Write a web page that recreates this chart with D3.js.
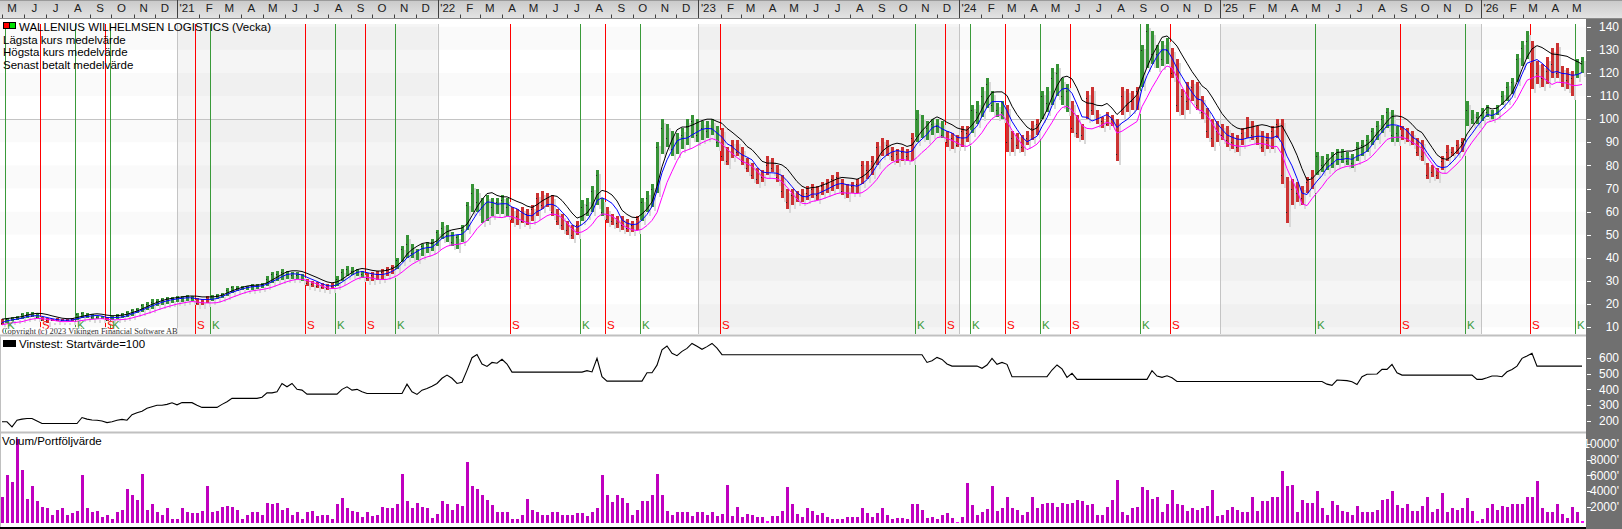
<!DOCTYPE html>
<html lang="sv">
<head>
<meta charset="utf-8">
<title>Wallenius Wilhelmsen Logistics (Vecka)</title>
<script src="https://cdn.jsdelivr.net/npm/d3@7"></script>
<style>
  html, body { margin: 0; padding: 0; background: #fff; overflow: hidden; }
  svg { display: block; font-family: "Liberation Sans", Arial, sans-serif; }
</style>
</head>
<body>
<script>
// weekly bars, week 0 = 2020-05-01
var lows = [
  11,12,12.5,13,13.5,14,14.5,14,12.5,12,
  12.5,12.5,12.5,12.5,12.5,13,14,14,13.5,13.5,
  13.5,12.5,13,13.5,14,14.5,15,16,16.5,17.5,
  18,19,19.5,20,20.5,21,21,21.5,21.5,19.5,
  19.5,20.5,21.5,22,22.5,23.5,25,25.5,26,26,
  26,26.5,27,28,29,30,30.5,31,31,31,
  30,28,27.5,27,26.5,26,26.5,28,30,32,
  32.5,32,31.5,30,30,30.5,31,32,33,35,
  38,40,40,39,41,42,43,45,48,47,
  45,44,47,52,60,60,55,56,58,59,
  59,58,55,54,55,54,56,58,61,62,
  58,54,52,50,48,50,56,58,60,63,
  58,55,54,53,52,51,51,52,56,60,
  62,68,85,88,84,85,87,89,92,90,
  91,92,93,88,82,80,83,84,80,77,
  74,72,73,76,77,73,66,61,63,64,
  64,65,66,65,67,68,69,70,67,66,
  68,68,72,74,76,80,84,84,82,81,
  82,82,82,90,92,91,93,94,92,88,
  87,88,88,90,94,98,101,105,103,101,
  100,86,86,87,86,89,91,93,100,103,
  106,110,106,103,94,92,91,100,102,98,
  96,97,97,82,102,103,104,104,114,122,
  124,122,123,124,118,103,102,104,108,104,
  100,92,88,90,91,88,87,86,89,92,
  91,89,86,87,87,92,72,55,63,64,
  63,68,70,76,77,78,79,80,81,80,
  79,82,84,86,89,91,94,96,90,90,
  91,90,89,84,82,74,75,74,78,82,
  84,85,86,97,98,98,99,101,100,102,
  106,108,111,116,123,126,113,115,114,115,
  118,118,114,113,110,118,120
];
var highs = [
  13.5,14,14.5,15,16,16.5,16.5,16,14.5,14,
  13.5,14,13.5,13.5,14,16,16.5,16,15.5,15,
  15,14.5,15,15.5,16,17,18,18.5,20,21,
  22,22,22.5,23,23,23.5,23.5,24,23.5,22.5,
  22,23.5,24,24.5,25,27,28,28,28,28,
  28.5,28.5,29,32,34,34.5,35,34.5,34,34,
  33,31,30,29.5,29,28.5,29,32,35,36.5,
  36,35,34.5,33.5,34,34.5,35,36,37,40,
  45,50,46,44,46,47,48,52,55.5,54,
  51,50,54,64,72,70,66,67,66,66,
  67,66,62,61,62,61,63,68,69,68,
  67,61,59,56,54,56,65,66,71,78,
  66,62,59,58,58,57,56,58,66,69,
  72,90,100,98,95,94,96,100,102,100,
  99,99,100,97,96,88,91,91,88,83,
  81,79,78,84,83,80,76,70,70,69,
  70,71,72,71,73,74,76,77,74,72,
  73,74,82,82,84,90,92,91,88,87,
  88,87,94,104,102,99,100,100,99,95,
  94,93,97,97,106,108,114,118,112,107,
  108,106,95,94,93,95,99,100,112,114,
  122,124,118,115,108,102,98,112,114,104,
  101,103,102,100,114,113,112,114,132,141,
  138,132,134,135,131,126,113,116,117,116,
  110,105,100,99,98,97,94,93,96,101,
  99,97,95,94,97,100,100,75,74,73,
  71,75,78,86,84,85,86,87,87,86,
  85,90,91,93,96,99,102,105,104,97,
  97,96,95,92,91,81,80,79,84,89,
  88,91,92,108,104,103,105,106,104,106,
  112,116,118,128,134,138,134,125,124,127,
  131,133,123,122,121,126,127
];
var closes = [
  12,13.5,14,14.5,15.5,15.5,15,14.5,13,13,
  13,13,13,13,13.5,15.5,16,15,14.5,14.5,
  14,13,14.5,15,15.5,16.5,17.5,18,19.5,20,
  21,21.5,22,22.5,22.5,22.5,23,23,22.5,20.5,
  21,23,23.5,24,24.5,26,27.5,27,27.5,27.5,
  28,28,28.5,31,33,33,34,33,32.5,32.5,
  31,29,28.5,28,27.5,27,28,31,34,35,
  34.5,34,33,31.5,32.5,33,34,35,36,39,
  44,46,42,43,45,46,47,51,53,50,
  47,49,52,63,68,64,62,64,62,64,
  65,62,57,58,56,59,61,66,63,66,
  60,56,54,52,50,54,62,63,69,76,
  60,57,56,55,54,53,54,57,64,66,
  70,88,96,92,87,90,93,97,99,93,
  96,95,96,90,84,82,89,86,82,79,
  76,74,75,80,79,75,69,64,67,66,
  67,68,70,67,71,72,74,75,69,68,
  71,72,80,78,82,88,86,89,84,85,
  86,84,92,100,95,96,98,97,93,90,
  92,89,95,94,104,103,110,115,106,104,
  103,90,92,89,88,92,96,98,110,107,
  118,120,110,112,96,94,93,109,104,100,
  99,98,100,85,110,106,108,112,130,138,
  128,128,126,130,120,106,110,108,114,106,
  103,95,92,95,93,91,90,88,94,96,
  93,92,88,91,95,98,76,60,70,68,
  66,73,75,84,80,83,81,85,84,82,
  81,88,89,91,95,97,100,103,93,94,
  93,92,90,86,84,76,77,76,82,86,
  86,89,90,104,100,101,102,103,102,105,
  110,114,116,126,131,134,118,120,118,121,
  124,120,116,117,118,125,125
];
// weekly volume, thousands of shares
var volumes = [
  3.3,6.0,5.2,10.7,6.7,3.0,4.7,2.7,2.0,1.9,
  0.9,1.6,1.8,0.9,1.2,1.5,6.0,1.9,1.4,1.5,
  0.7,1.0,0.4,1.3,1.6,4.3,3.5,2.9,6.2,1.6,
  2.4,1.4,0.9,1.9,0.4,0.4,1.9,1.3,1.2,1.2,
  1.5,4.6,1.3,1.5,2.0,2.1,2.0,1.6,0.4,1.0,
  1.3,1.3,1.0,2.5,2.3,2.5,1.6,1.8,0.9,1.3,
  0.4,1.4,1.5,0.8,1.0,1.0,0.4,2.4,3.1,1.9,
  1.5,1.3,0.7,1.3,0.8,1.0,2.0,1.8,1.8,2.3,
  6.2,2.7,1.8,2.5,2.0,1.8,0.6,1.1,2.8,2.3,
  1.6,2.4,2.1,7.7,4.6,4.3,3.5,2.9,2.2,1.3,
  1.3,1.3,0.5,0.5,0.9,3.0,1.6,1.3,0.9,0.9,
  1.4,1.4,0.9,1.0,0.9,1.2,1.2,0.8,1.3,1.9,
  6.1,3.5,2.6,3.5,3.1,2.5,1.0,1.6,2.7,2.8,
  3.5,6.2,3.5,1.5,1.0,1.4,1.3,1.3,0.8,1.3,
  1.4,0.9,1.3,0.8,1.1,4.8,0.8,2.0,0.7,1.1,
  0.9,0.7,0.7,0.2,0.8,0.8,1.5,4.5,2.3,1.1,
  0.7,1.9,1.5,1.0,1.2,0.7,0.5,0.4,0.5,0.7,
  0.7,0.7,1.8,1.2,0.7,1.2,1.8,1.0,0.5,0.6,
  0.6,0.5,2.3,2.3,1.6,0.6,0.7,0.5,1.0,1.2,
  0.6,0.1,0.7,5.0,2.2,1.0,1.3,1.7,4.6,1.5,
  1.9,3.3,1.9,1.6,0.9,1.3,3.3,1.8,2.4,2.5,
  2.5,2.0,2.5,2.3,2.5,2.9,2.7,2.2,2.3,1.0,
  1.0,2.0,2.9,5.4,1.4,1.0,1.9,2.0,4.5,4.1,
  3.0,3.2,1.3,2.4,4.1,2.4,2.2,1.5,1.8,1.6,
  1.8,2.1,4.1,0.8,1.0,1.6,2.0,1.6,1.3,1.3,
  3.2,1.5,2.7,2.8,3.3,3.2,6.6,4.7,4.8,1.3,
  2.9,2.5,2.5,4.0,1.8,0.9,2.8,2.2,1.5,1.3,
  1.0,2.1,1.3,1.3,1.3,1.6,2.9,3.0,4.0,2.2,
  1.9,2.3,1.5,1.5,2.15,3.3,1.3,1.7,3.7,1.4,
  1.8,1.6,1.8,3.1,1.5,0.2,0.4,1.8,2.3,1.6,
  2.1,2.0,2.3,2.4,2.4,3.3,3.2,5.3,1.8,1.3,
  1.3,2.3,1.1,0.6,2.0,1.3,0.15
];
// K = köp, S = sälj (week index of the signal)
var signalWeeks = [0,7,14,20,21,38,41,60,66,72,78,101,115,120,127,143,182,188,193,200,207,213,227,233,262,279,292,305,314];
var signalTypes = ["K","S","K","S","K","S","K","S","K","S","K","S","K","S","K","S","K","S","K","S","K","S","K","S","K","S","K","S","K"];
// Vinstest (portfolio value), read at week index
var vinWeeks = [0,1,2,3,4,5,6,7,8,15,16,17,18,19,20,21,22,23,24,25,26,27,28,29,30,31,32,33,34,35,36,37,38,39,40,43,44,45,46,51,52,53,54,55,56,57,58,59,60,61,67,68,69,70,71,72,73,80,81,82,83,84,85,86,87,88,89,90,91,92,93,94,95,96,97,98,99,100,101,102,116,117,118,119,120,121,128,129,130,131,132,133,134,135,136,137,138,139,140,141,142,143,144,184,185,186,187,188,189,190,195,196,197,198,199,200,201,202,209,210,211,212,213,214,215,229,230,231,232,233,234,235,264,265,266,267,269,270,271,272,273,275,276,277,278,279,280,294,295,296,297,298,299,300,301,302,303,304,305,306,307,316];
var vinValues = [195,195,163,205,212,216,216,200,184,184,222,212,206,205,200,190,195,205,210,205,240,252,262,280,290,300,300,305,315,302,317,316,316,300,286,286,305,322,343,343,350,378,378,385,437,416,437,400,395,370,370,400,416,395,400,385,374,374,433,385,368,395,406,420,437,470,490,470,437,445,520,600,620,560,545,570,565,590,560,509,509,518,510,596,480,452,452,505,505,553,650,674,628,613,640,659,690,672,653,670,690,660,619,619,570,581,602,589,560,547,547,533,554,596,558,570,558,480,480,522,554,529,476,501,463,463,518,484,476,486,473,450,450,433,425,459,455,448,431,480,495,497,526,526,558,505,490,490,463,463,473,484,484,480,511,526,547,596,611,628,547,547];

var priceTicks = [10,20,30,40,50,60,70,80,90,100,110,120,130,140];
var vinTicks = [200,300,400,500,600];
var volTicks = [2000,4000,6000,8000,10000];
var monthLetters = ["J","F","M","A","M","J","J","A","S","O","N","D"];
var legendLines = ["Lägsta kurs medelvärde","Högsta kurs medelvärde","Senast betalt medelvärde"];

var width = 1622, height = 529, plotRight = 1586;
var mainTop = 24, mainBottom = 334;
var vinTop = 337, vinBottom = 431;

var weekStart = new Date(2020, 4, 1);
function weekDate(i) { return d3.timeDay.offset(weekStart, 7 * i); }
var x = d3.scaleTime().domain([new Date(2020, 3, 28), new Date(2026, 4, 28)]).range([0, plotRight]);
function xw(i) { return Math.round(x(weekDate(i))); }

var y = d3.scaleLinear().domain([10, 140]).range([327.2, 26.7]);
var yVin = d3.scaleLinear().domain([200, 600]).range([421, 357.7]);
var yVol = d3.scaleLinear().domain([0, 10000]).range([522.5, 444]);

var weeks = d3.range(lows.length);
function barColor(i) {
  var k = d3.bisectLeft(signalWeeks, i) - 1;
  if (k < 0) return "#cc3333";
  return signalTypes[k] === "K" ? "#379337" : "#cc3333";
}
function movingAvg(arr, n) {
  return arr.map(function(v, i) { return d3.mean(arr.slice(Math.max(0, i - n + 1), i + 1)); });
}

var svg = d3.select("body").append("svg").attr("width", width).attr("height", height);
var defs = svg.append("defs");
var grad = defs.append("linearGradient").attr("id", "strip").attr("x1", 0).attr("y1", 0).attr("x2", 0).attr("y2", 1);
grad.append("stop").attr("offset", "0%").attr("stop-color", "#c9c9c9");
grad.append("stop").attr("offset", "100%").attr("stop-color", "#e3e3e3");
defs.append("clipPath").attr("id", "clipMain").append("rect").attr("x", 0).attr("y", mainTop).attr("width", plotRight).attr("height", mainBottom - mainTop);
defs.append("clipPath").attr("id", "clipVin").append("rect").attr("x", 0).attr("y", vinTop).attr("width", plotRight).attr("height", vinBottom - vinTop);

svg.append("rect").attr("width", width).attr("height", height).attr("fill", "#fff");

// ---- main panel background
var gMain = svg.append("g").attr("clip-path", "url(#clipMain)");
var yearStarts = d3.timeYear.range(new Date(2021, 0, 1), new Date(2027, 0, 1));
gMain.selectAll("rect.year").data(yearStarts.filter(function(d) { return d.getFullYear() % 2 === 1; }))
  .join("rect").attr("class", "year")
  .attr("x", function(d) { return x(d); })
  .attr("width", function(d) { return x(d3.timeYear.offset(d, 1)) - x(d); })
  .attr("y", mainTop).attr("height", mainBottom - mainTop)
  .attr("fill", "#000").attr("fill-opacity", 0.04);
gMain.selectAll("rect.band").data(priceTicks.filter(function(d, i) { return i % 2 === 0; }))
  .join("rect").attr("class", "band")
  .attr("x", 0).attr("width", plotRight)
  .attr("y", function(d) { return y(d + 10); })
  .attr("height", function(d) { return y(d) - y(d + 10); })
  .attr("fill", "#000").attr("fill-opacity", 0.018);
gMain.selectAll("line.year").data(yearStarts.filter(function(d) { return x(d) < plotRight; }))
  .join("line").attr("class", "year")
  .attr("x1", function(d) { return Math.round(x(d)) + 0.5; })
  .attr("x2", function(d) { return Math.round(x(d)) + 0.5; })
  .attr("y1", mainTop).attr("y2", mainBottom)
  .attr("stroke", "#c4c4c4");
gMain.append("line").attr("x1", 0).attr("x2", plotRight)
  .attr("y1", Math.round(y(100)) + 0.5).attr("y2", Math.round(y(100)) + 0.5)
  .attr("stroke", "#c4c4c4");

// signal lines
gMain.selectAll("line.sig").data(signalWeeks)
  .join("line").attr("class", "sig")
  .attr("x1", function(d) { return xw(d) + 3.5; })
  .attr("x2", function(d) { return xw(d) + 3.5; })
  .attr("y1", mainTop).attr("y2", mainBottom)
  .attr("stroke", function(d, i) { return signalTypes[i] === "K" ? "#3a9a3a" : "#ff0000"; });

// bars with grey shadow
gMain.append("g").attr("shape-rendering", "crispEdges")
  .selectAll("rect").data(weeks).join("rect")
  .attr("x", function(i) { return xw(i) + 2; })
  .attr("y", function(i) { return y(highs[i]) + 4; })
  .attr("width", 2)
  .attr("height", function(i) { return Math.max(1, y(lows[i]) - y(highs[i])); })
  .attr("fill", "#d8d8d8");
gMain.append("g").attr("shape-rendering", "crispEdges")
  .selectAll("rect").data(weeks).join("rect")
  .attr("x", function(i) { return xw(i) - 1; })
  .attr("y", function(i) { return y(highs[i]); })
  .attr("width", 3)
  .attr("height", function(i) { return Math.max(1, y(lows[i]) - y(highs[i])); })
  .attr("fill", barColor);
gMain.append("g").attr("shape-rendering", "crispEdges")
  .selectAll("rect").data(weeks).join("rect")
  .attr("x", function(i) { return xw(i) - 1; })
  .attr("y", function(i) { return Math.round(y(closes[i])); })
  .attr("width", 1).attr("height", 1)
  .attr("fill", "#222");

// moving averages
var maLine = d3.line().x(function(d, i) { return xw(i); }).y(function(d) { return y(d); });
[[highs, "#000000"], [closes, "#0000ff"], [lows, "#ff00ff"]].forEach(function(s) {
  gMain.append("path").attr("d", maLine(movingAvg(s[0], 5)))
    .attr("fill", "none").attr("stroke", s[1]).attr("stroke-width", 1);
});

// signal letters
svg.selectAll("text.sig").data(signalWeeks).join("text").attr("class", "sig")
  .attr("x", function(d) { return xw(d) + 5; })
  .attr("y", 329)
  .attr("font-size", 11.5)
  .attr("fill", function(d, i) { return signalTypes[i] === "K" ? "#3a9a3a" : "#ff0000"; })
  .text(function(d, i) { return signalTypes[i]; });

svg.append("text").attr("x", 2).attr("y", 333.5)
  .attr("font-family", "'Liberation Serif', serif").attr("font-size", 8.4)
  .attr("fill", "#333").attr("stroke", "#fff").attr("stroke-width", 1.6)
  .attr("paint-order", "stroke")
  .text("Copyright (c) 2023 Vikingen Financial Software AB");

// legend
svg.append("rect").attr("x", 3.5).attr("y", 22.5).attr("width", 6).attr("height", 6).attr("fill", "#ff0000").attr("stroke", "#000");
svg.append("rect").attr("x", 9.5).attr("y", 22.5).attr("width", 6).attr("height", 6).attr("fill", "#00e000").attr("stroke", "#000");
svg.append("text").attr("x", 19).attr("y", 30.5).attr("font-size", 11.5).attr("fill", "#000")
  .text("WALLENIUS WILHELMSEN LOGISTICS (Vecka)");
svg.selectAll("text.leg").data(legendLines).join("text").attr("class", "leg")
  .attr("x", 3).attr("y", function(d, i) { return 43.5 + i * 12.8; })
  .attr("font-size", 11.5).attr("fill", "#000").text(function(d) { return d; });

// ---- top time strip
svg.append("rect").attr("x", 0).attr("y", 0).attr("width", width).attr("height", 18).attr("fill", "url(#strip)");
svg.append("line").attr("x1", 0).attr("x2", width).attr("y1", 0.5).attr("y2", 0.5).attr("stroke", "#9a9a9a");
svg.append("line").attr("x1", 0).attr("x2", width).attr("y1", 18.5).attr("y2", 18.5).attr("stroke", "#8a8a8a");
var months = d3.timeMonth.range(new Date(2020, 4, 1), new Date(2026, 5, 1));
var gTop = svg.append("g");
months.forEach(function(m) {
  var xm = Math.round(x(m)) + 0.5;
  var mid = x(d3.timeDay.offset(m, 14));
  var isJan = m.getMonth() === 0;
  gTop.append("line").attr("x1", xm).attr("x2", xm)
    .attr("y1", isJan ? 0 : 14.5).attr("y2", 18).attr("stroke", "#404040");
  gTop.append("text").attr("x", mid).attr("y", 11.5).attr("text-anchor", "middle")
    .attr("font-size", 11.5).attr("fill", "#202020")
    .text(isJan ? "'" + String(m.getFullYear() % 100).padStart(2, "0") : monthLetters[m.getMonth()]);
});

// ---- panel separators
svg.append("rect").attr("x", 0).attr("y", 334.5).attr("width", plotRight).attr("height", 2).attr("fill", "#c0c0c0");
svg.append("rect").attr("x", 0).attr("y", 431.5).attr("width", plotRight).attr("height", 2).attr("fill", "#c0c0c0");
svg.append("rect").attr("x", 0).attr("y", 336.5).attr("width", 1).attr("height", 191).attr("fill", "#c0c0c0");

// ---- Vinstest panel
svg.append("path").datum(vinValues)
  .attr("clip-path", "url(#clipVin)")
  .attr("d", d3.line().x(function(d, i) { return xw(vinWeeks[i]); }).y(function(d) { return yVin(d); }))
  .attr("fill", "none").attr("stroke", "#000").attr("stroke-width", 1.1);
svg.append("rect").attr("x", 3).attr("y", 340).attr("width", 13).attr("height", 7).attr("fill", "#000");
svg.append("text").attr("x", 19).attr("y", 347.5).attr("font-size", 11.5).attr("fill", "#000")
  .text("Vinstest: Startvärde=100");

// ---- volume panel
svg.append("g").attr("shape-rendering", "crispEdges")
  .selectAll("rect").data(weeks).join("rect")
  .attr("x", function(i) { return xw(i) - 1; })
  .attr("y", function(i) { return yVol(volumes[i] * 1000); })
  .attr("width", 3)
  .attr("height", function(i) { return Math.max(1, yVol(0) - yVol(volumes[i] * 1000)); })
  .attr("fill", function(i) { return volumes[i] < 0.3 ? "#ff00ff" : "#bf00bf"; });
svg.append("text").attr("x", 2).attr("y", 444.5).attr("font-size", 11.5).attr("fill", "#000")
  .text("Volum/Portföljvärde");
svg.append("rect").attr("x", 0).attr("y", 527).attr("width", width).attr("height", 2).attr("fill", "#000");

// ---- right value axes
svg.append("rect").attr("x", plotRight).attr("y", 19).attr("width", width - plotRight).attr("height", height - 19).attr("fill", "#707070");
function rightAxis(scale, ticks, fmt) {
  var g = svg.append("g");
  g.selectAll("line").data(ticks).join("line")
    .attr("x1", plotRight + 1).attr("x2", plotRight + 5)
    .attr("y1", function(d) { return Math.round(scale(d)) + 0.5; })
    .attr("y2", function(d) { return Math.round(scale(d)) + 0.5; })
    .attr("stroke", "#fff");
  g.selectAll("text").data(ticks).join("text")
    .attr("x", 1619).attr("y", function(d) { return scale(d); })
    .attr("dy", "0.35em").attr("text-anchor", "end")
    .attr("font-size", 12).attr("fill", "#fff").text(fmt);
}
rightAxis(y, priceTicks, function(d) { return d; });
rightAxis(yVin, vinTicks, function(d) { return d; });
rightAxis(yVol, volTicks, function(d) { return (d / 1000) + "000'"; });
</script>
</body>
</html>
